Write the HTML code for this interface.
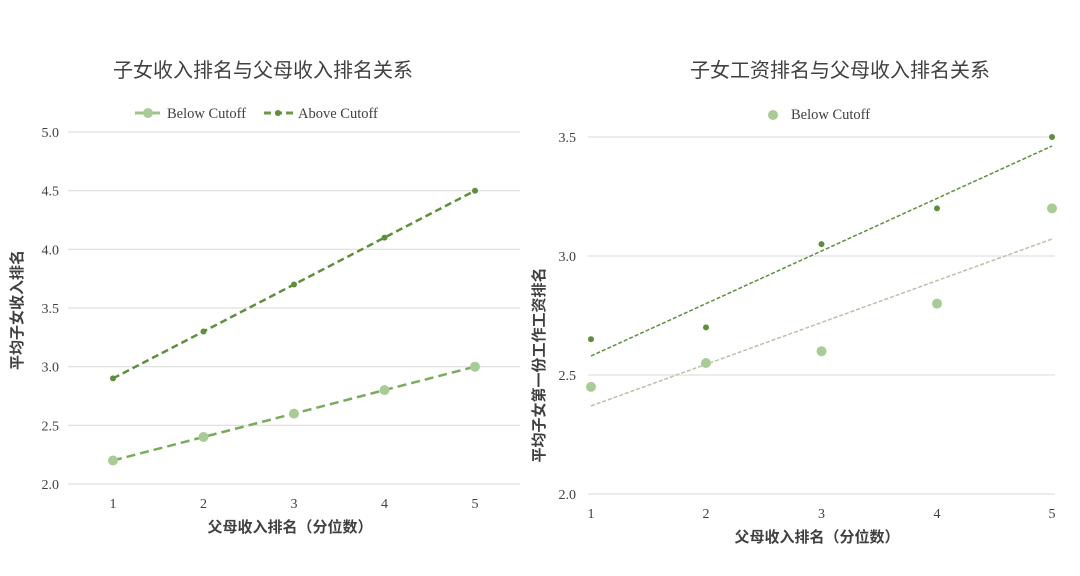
<!DOCTYPE html>
<html><head><meta charset="utf-8"><style>
body{margin:0;background:#fff}
svg{display:block}
text{font-family:"Liberation Serif","Noto Serif CJK SC",serif;fill:#404040}
.cj{font-family:"Liberation Sans","Noto Sans CJK SC",sans-serif}
</style></head><body>
<svg width="1080" height="576" viewBox="0 0 1080 576">
<!-- LEFT -->
<text class="cj" x="263" y="77" font-size="20" text-anchor="middle" fill="#262626">子女收入排名与父母收入排名关系</text>
<line x1="135" y1="113" x2="160" y2="113" stroke="#9dc58a" stroke-width="3"/>
<circle cx="148" cy="113" r="5" fill="#a9cc97"/>
<text x="167" y="118" font-size="14.5">Below Cutoff</text>
<line x1="264" y1="113" x2="293" y2="113" stroke="#6a9a48" stroke-width="3" stroke-dasharray="7,4"/>
<circle cx="278" cy="113" r="3" fill="#5e8f3d"/>
<text x="298" y="118" font-size="14.5">Above Cutoff</text>
<g stroke="#d9d9d9" stroke-width="1">
<line x1="68" y1="132" x2="520" y2="132"/><line x1="68" y1="190.7" x2="520" y2="190.7"/>
<line x1="68" y1="249.3" x2="520" y2="249.3"/><line x1="68" y1="308" x2="520" y2="308"/>
<line x1="68" y1="366.7" x2="520" y2="366.7"/><line x1="68" y1="425.3" x2="520" y2="425.3"/>
<line x1="68" y1="484" x2="520" y2="484"/>
</g>
<g font-size="14" text-anchor="end">
<text x="59" y="137">5.0</text><text x="59" y="195.7">4.5</text><text x="59" y="254.3">4.0</text>
<text x="59" y="313">3.5</text><text x="59" y="371.7">3.0</text><text x="59" y="430.3">2.5</text><text x="59" y="489">2.0</text>
</g>
<g font-size="14" text-anchor="middle">
<text x="113" y="508">1</text><text x="203.5" y="508">2</text><text x="294" y="508">3</text><text x="384.5" y="508">4</text><text x="475" y="508">5</text>
</g>
<text class="cj" x="290" y="532" font-size="15" font-weight="bold" text-anchor="middle" fill="#1a1a1a">父母收入排名（分位数）</text>
<text class="cj" transform="translate(22,310) rotate(-90)" font-size="15" font-weight="bold" text-anchor="middle" fill="#1a1a1a">平均子女收入排名</text>
<polyline points="113,460.5 203.5,437 294,413.6 384.5,390.1 475,366.7" fill="none" stroke="#7aab5c" stroke-width="2.5" stroke-dasharray="9,5"/>
<g fill="#a9cc97"><circle cx="113" cy="460.5" r="5"/><circle cx="203.5" cy="437" r="5"/><circle cx="294" cy="413.6" r="5"/><circle cx="384.5" cy="390.1" r="5"/><circle cx="475" cy="366.7" r="5"/></g>
<polyline points="113,378.4 203.5,331.5 294,284.5 384.5,237.6 475,190.7" fill="none" stroke="#5e8f3d" stroke-width="2.5" stroke-dasharray="7,4"/>
<g fill="#5e8f3d"><circle cx="113" cy="378.4" r="3"/><circle cx="203.5" cy="331.5" r="3"/><circle cx="294" cy="284.5" r="3"/><circle cx="384.5" cy="237.6" r="3"/><circle cx="475" cy="190.7" r="3"/></g>
<!-- RIGHT -->
<text class="cj" x="840" y="77" font-size="20" text-anchor="middle" fill="#262626">子女工资排名与父母收入排名关系</text>
<circle cx="773" cy="115" r="5" fill="#a9cc97"/>
<text x="791" y="119" font-size="14.5">Below Cutoff</text>
<g stroke="#d9d9d9" stroke-width="1">
<line x1="588" y1="137" x2="1055" y2="137"/><line x1="588" y1="256" x2="1055" y2="256"/>
<line x1="588" y1="375" x2="1055" y2="375"/><line x1="588" y1="494" x2="1055" y2="494"/>
</g>
<g font-size="14" text-anchor="end">
<text x="576" y="142">3.5</text><text x="576" y="261">3.0</text><text x="576" y="380">2.5</text><text x="576" y="499">2.0</text>
</g>
<g font-size="14" text-anchor="middle">
<text x="591" y="518">1</text><text x="706" y="518">2</text><text x="821.5" y="518">3</text><text x="937" y="518">4</text><text x="1052" y="518">5</text>
</g>
<text class="cj" x="817" y="542" font-size="15" font-weight="bold" text-anchor="middle" fill="#1a1a1a">父母收入排名（分位数）</text>
<text class="cj" transform="translate(544,365) rotate(-90)" font-size="15" font-weight="bold" text-anchor="middle" fill="#1a1a1a">平均子女第一份工作工资排名</text>
<line x1="591" y1="356" x2="1052" y2="146" stroke="#5e8f3d" stroke-width="1.5" stroke-dasharray="4,2"/>
<line x1="591" y1="406" x2="1052" y2="239" stroke="#b5c4a8" stroke-width="1.5" stroke-dasharray="4,2"/>
<g fill="#a9cc97"><circle cx="591" cy="386.9" r="5"/><circle cx="706" cy="363" r="5"/><circle cx="821.5" cy="351.2" r="5"/><circle cx="937" cy="303.6" r="5"/><circle cx="1052" cy="208.4" r="5"/></g>
<g fill="#5e8f3d"><circle cx="591" cy="339.3" r="3"/><circle cx="706" cy="327.4" r="3"/><circle cx="821.5" cy="244.1" r="3"/><circle cx="937" cy="208.4" r="3"/><circle cx="1052" cy="137" r="3"/></g>
</svg>
</body></html>
